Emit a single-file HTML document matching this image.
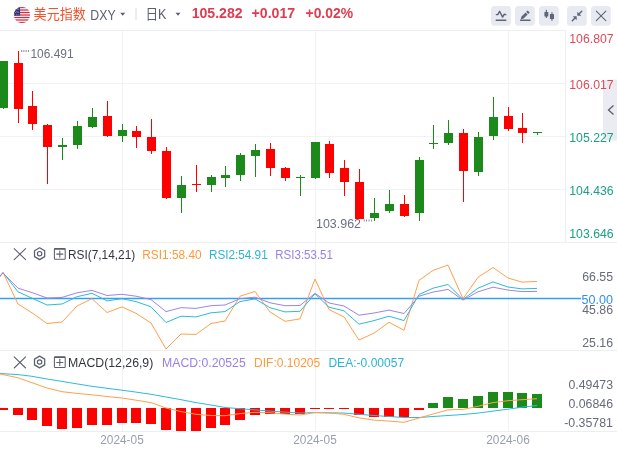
<!DOCTYPE html>
<html lang="zh-CN"><head><meta charset="utf-8"><title>美元指数 DXY</title>
<style>html,body{margin:0;padding:0;background:#fff;overflow:hidden}body{width:617px;height:453px}</style></head>
<body>
<svg width="617" height="453" viewBox="0 0 617 453" style="display:block;font-family:'Liberation Sans', 'Noto Sans CJK SC', sans-serif">
<rect width="617" height="453" fill="#ffffff"/>
<g stroke="#f1f2f6" stroke-width="1" shape-rendering="crispEdges">
<line x1="0" y1="83.5" x2="565" y2="83.5"/>
<line x1="0" y1="136.5" x2="565" y2="136.5"/>
<line x1="0" y1="189.5" x2="565" y2="189.5"/>
<line x1="122.5" y1="31" x2="122.5" y2="431"/>
<line x1="315.5" y1="31" x2="315.5" y2="431"/>
<line x1="508.5" y1="31" x2="508.5" y2="431"/>
</g>
<g stroke="#eceef2" stroke-width="1" shape-rendering="crispEdges">
<line x1="0" y1="30.5" x2="566" y2="30.5"/>
<line x1="565.5" y1="30" x2="565.5" y2="242"/>
<line x1="0" y1="242.5" x2="617" y2="242.5"/>
<line x1="0" y1="350.5" x2="617" y2="350.5"/>
<line x1="0" y1="431.5" x2="617" y2="431.5"/>
</g>
<g shape-rendering="crispEdges">
<rect x="-1" y="60.9" width="1.4" height="47.6" fill="#1b8a1b" transform="translate(3.8,0)"/>
<rect x="-1" y="60.9" width="9" height="46.9" fill="#1b8a1b"/>
<rect x="14" y="50.7" width="1.4" height="72.2" fill="#ff0000" transform="translate(3.8,0)"/>
<rect x="14" y="62.8" width="9" height="45.7" fill="#ff0000"/>
<rect x="28" y="90.8" width="1.4" height="39.6" fill="#ff0000" transform="translate(3.8,0)"/>
<rect x="28" y="105.9" width="9" height="17.7" fill="#ff0000"/>
<rect x="43" y="123.7" width="1.4" height="59.8" fill="#ff0000" transform="translate(3.8,0)"/>
<rect x="43" y="124.9" width="9" height="21.6" fill="#ff0000"/>
<rect x="58" y="138.0" width="1.4" height="21.7" fill="#1b8a1b" transform="translate(3.8,0)"/>
<rect x="58" y="145.0" width="9" height="1.6" fill="#1b8a1b"/>
<rect x="73" y="121.2" width="1.4" height="27.3" fill="#1b8a1b" transform="translate(3.8,0)"/>
<rect x="73" y="126.1" width="9" height="18.5" fill="#1b8a1b"/>
<rect x="88" y="107.9" width="1.4" height="19.9" fill="#1b8a1b" transform="translate(3.8,0)"/>
<rect x="88" y="116.9" width="9" height="9.7" fill="#1b8a1b"/>
<rect x="103" y="101.0" width="1.4" height="35.6" fill="#ff0000" transform="translate(3.8,0)"/>
<rect x="103" y="115.6" width="9" height="20.0" fill="#ff0000"/>
<rect x="118" y="124.2" width="1.4" height="17.8" fill="#1b8a1b" transform="translate(3.8,0)"/>
<rect x="118" y="130.0" width="9" height="6.0" fill="#1b8a1b"/>
<rect x="132" y="125.6" width="1.4" height="21.9" fill="#ff0000" transform="translate(3.8,0)"/>
<rect x="132" y="131.2" width="9" height="5.4" fill="#ff0000"/>
<rect x="147" y="119.0" width="1.4" height="34.5" fill="#ff0000" transform="translate(3.8,0)"/>
<rect x="147" y="137.0" width="9" height="13.6" fill="#ff0000"/>
<rect x="162" y="147.0" width="1.4" height="51.5" fill="#ff0000" transform="translate(3.8,0)"/>
<rect x="162" y="151.1" width="9" height="46.7" fill="#ff0000"/>
<rect x="177" y="176.2" width="1.4" height="36.8" fill="#1b8a1b" transform="translate(3.8,0)"/>
<rect x="177" y="185.2" width="9" height="12.4" fill="#1b8a1b"/>
<rect x="192" y="165.0" width="1.4" height="26.7" fill="#ff0000" transform="translate(3.8,0)"/>
<rect x="192" y="183.6" width="9" height="1.6" fill="#ff0000"/>
<rect x="207" y="175.0" width="1.4" height="16.7" fill="#1b8a1b" transform="translate(3.8,0)"/>
<rect x="207" y="177.1" width="9" height="7.6" fill="#1b8a1b"/>
<rect x="221" y="166.0" width="1.4" height="20.6" fill="#1b8a1b" transform="translate(3.8,0)"/>
<rect x="221" y="175.0" width="9" height="2.9" fill="#1b8a1b"/>
<rect x="236" y="152.8" width="1.4" height="28.0" fill="#1b8a1b" transform="translate(3.8,0)"/>
<rect x="236" y="155.0" width="9" height="19.7" fill="#1b8a1b"/>
<rect x="251" y="144.0" width="1.4" height="32.6" fill="#1b8a1b" transform="translate(3.8,0)"/>
<rect x="251" y="150.1" width="9" height="5.6" fill="#1b8a1b"/>
<rect x="266" y="143.0" width="1.4" height="32.7" fill="#ff0000" transform="translate(3.8,0)"/>
<rect x="266" y="148.9" width="9" height="18.7" fill="#ff0000"/>
<rect x="281" y="167.0" width="1.4" height="13.8" fill="#ff0000" transform="translate(3.8,0)"/>
<rect x="281" y="168.0" width="9" height="9.8" fill="#ff0000"/>
<rect x="296" y="175.0" width="1.4" height="20.9" fill="#1b8a1b" transform="translate(3.8,0)"/>
<rect x="296" y="176.6" width="9" height="1.6" fill="#1b8a1b"/>
<rect x="311" y="141.9" width="1.4" height="37.0" fill="#1b8a1b" transform="translate(3.8,0)"/>
<rect x="311" y="141.9" width="9" height="36.0" fill="#1b8a1b"/>
<rect x="325" y="140.9" width="1.4" height="37.0" fill="#ff0000" transform="translate(3.8,0)"/>
<rect x="325" y="143.8" width="9" height="29.0" fill="#ff0000"/>
<rect x="340" y="159.9" width="1.4" height="36.0" fill="#ff0000" transform="translate(3.8,0)"/>
<rect x="340" y="167.9" width="9" height="13.9" fill="#ff0000"/>
<rect x="355" y="168.9" width="1.4" height="49.6" fill="#ff0000" transform="translate(3.8,0)"/>
<rect x="355" y="182.0" width="9" height="36.5" fill="#ff0000"/>
<rect x="370" y="197.9" width="1.4" height="22.6" fill="#1b8a1b" transform="translate(3.8,0)"/>
<rect x="370" y="212.9" width="9" height="4.7" fill="#1b8a1b"/>
<rect x="385" y="189.8" width="1.4" height="23.1" fill="#1b8a1b" transform="translate(3.8,0)"/>
<rect x="385" y="203.9" width="9" height="6.9" fill="#1b8a1b"/>
<rect x="400" y="194.9" width="1.4" height="21.9" fill="#ff0000" transform="translate(3.8,0)"/>
<rect x="400" y="203.9" width="9" height="12.0" fill="#ff0000"/>
<rect x="415" y="157.0" width="1.4" height="63.7" fill="#1b8a1b" transform="translate(3.8,0)"/>
<rect x="415" y="159.9" width="9" height="52.8" fill="#1b8a1b"/>
<rect x="429" y="125.0" width="1.4" height="23.9" fill="#1b8a1b" transform="translate(3.8,0)"/>
<rect x="429" y="142.7" width="9" height="1.6" fill="#1b8a1b"/>
<rect x="444" y="119.9" width="1.4" height="25.1" fill="#1b8a1b" transform="translate(3.8,0)"/>
<rect x="444" y="133.0" width="9" height="9.8" fill="#1b8a1b"/>
<rect x="459" y="128.9" width="1.4" height="73.1" fill="#ff0000" transform="translate(3.8,0)"/>
<rect x="459" y="133.0" width="9" height="37.8" fill="#ff0000"/>
<rect x="474" y="131.8" width="1.4" height="44.1" fill="#1b8a1b" transform="translate(3.8,0)"/>
<rect x="474" y="136.9" width="9" height="34.8" fill="#1b8a1b"/>
<rect x="489" y="97.0" width="1.4" height="42.9" fill="#1b8a1b" transform="translate(3.8,0)"/>
<rect x="489" y="117.0" width="9" height="18.7" fill="#1b8a1b"/>
<rect x="504" y="107.0" width="1.4" height="23.9" fill="#ff0000" transform="translate(3.8,0)"/>
<rect x="504" y="116.0" width="9" height="12.9" fill="#ff0000"/>
<rect x="518" y="112.8" width="1.4" height="30.2" fill="#ff0000" transform="translate(3.8,0)"/>
<rect x="518" y="127.9" width="9" height="4.9" fill="#ff0000"/>
<rect x="533" y="131.5" width="1.4" height="3.5" fill="#1b8a1b" transform="translate(3.8,0)"/>
<rect x="533" y="131.5" width="9" height="1.6" fill="#1b8a1b"/>
</g>
<line x1="21.3" y1="51" x2="29.2" y2="51" stroke="#6b7080" stroke-width="2" stroke-dasharray="0.8,1.4"/>
<text x="30.4" y="58" font-size="12" fill="#6b7080" textLength="43.2" lengthAdjust="spacingAndGlyphs">106.491</text>
<line x1="363.8" y1="220.4" x2="372.2" y2="220.4" stroke="#6b7080" stroke-width="2" stroke-dasharray="0.8,1.6"/>
<text x="316" y="228" font-size="12" fill="#6b7080" textLength="45" lengthAdjust="spacingAndGlyphs">103.962</text>
<line x1="0" y1="298.6" x2="581" y2="298.6" stroke="#379ef5" stroke-width="1.5"/>
<polyline fill="none" stroke="#ffa04d" stroke-width="1.0" stroke-linejoin="round" points="0.0,277.0 3.0,272.4 18.0,304.0 32.0,312.8 47.0,323.5 62.0,322.0 77.0,306.0 92.0,298.7 107.0,312.5 122.0,306.9 136.0,313.3 151.0,323.0 166.0,349.0 181.0,334.0 196.0,334.4 211.0,323.5 225.0,321.0 240.0,296.2 255.0,291.4 270.0,312.0 285.0,321.3 300.0,318.9 315.0,279.0 329.0,309.6 344.0,316.9 359.0,340.0 374.0,333.2 389.0,322.3 404.0,330.3 419.0,280.4 433.0,270.4 448.0,265.1 463.0,298.7 478.0,277.3 493.0,267.5 508.0,278.0 522.0,282.1 537.0,281.4"/>
<polyline fill="none" stroke="#2fbad8" stroke-width="1.0" stroke-linejoin="round" points="0.0,276.0 3.0,272.6 18.0,291.8 32.0,298.2 47.0,305.0 62.0,304.0 77.0,296.7 92.0,293.3 107.0,300.9 122.0,298.7 136.0,301.6 151.0,306.8 166.0,322.5 181.0,316.2 196.0,316.9 211.0,312.8 225.0,311.6 240.0,301.6 255.0,298.9 270.0,307.7 285.0,311.9 300.0,311.3 315.0,293.8 329.0,307.2 344.0,310.8 359.0,324.2 374.0,320.6 389.0,316.2 404.0,320.6 419.0,294.5 433.0,288.2 448.0,284.5 463.0,299.4 478.0,288.2 493.0,281.9 508.0,287.0 522.0,288.9 537.0,288.4"/>
<polyline fill="none" stroke="#9d84ea" stroke-width="1.0" stroke-linejoin="round" points="0.0,276.0 3.0,273.0 18.0,288.2 32.0,292.6 47.0,298.0 62.0,297.4 77.0,292.8 92.0,290.4 107.0,295.5 122.0,294.3 136.0,296.2 151.0,299.6 166.0,311.6 181.0,307.7 196.0,308.4 211.0,305.7 225.0,305.0 240.0,298.7 255.0,297.2 270.0,302.8 285.0,305.7 300.0,305.5 315.0,293.3 329.0,303.0 344.0,306.0 359.0,315.2 374.0,313.0 389.0,310.1 404.0,313.5 419.0,296.2 433.0,292.1 448.0,289.4 463.0,300.1 478.0,291.8 493.0,287.2 508.0,290.1 522.0,291.6 537.0,291.4"/>
<g shape-rendering="crispEdges">
<rect x="-2" y="408.0" width="10" height="2.4" fill="#ff0000"/>
<rect x="13" y="408.0" width="10" height="6.8" fill="#ff0000"/>
<rect x="27" y="408.0" width="10" height="11.6" fill="#ff0000"/>
<rect x="42" y="408.0" width="10" height="17.7" fill="#ff0000"/>
<rect x="57" y="408.0" width="10" height="20.9" fill="#ff0000"/>
<rect x="72" y="408.0" width="10" height="19.7" fill="#ff0000"/>
<rect x="87" y="408.0" width="10" height="17.0" fill="#ff0000"/>
<rect x="102" y="408.0" width="10" height="16.5" fill="#ff0000"/>
<rect x="117" y="408.0" width="10" height="15.3" fill="#ff0000"/>
<rect x="131" y="408.0" width="10" height="15.3" fill="#ff0000"/>
<rect x="146" y="408.0" width="10" height="15.8" fill="#ff0000"/>
<rect x="161" y="408.0" width="10" height="21.9" fill="#ff0000"/>
<rect x="176" y="408.0" width="10" height="22.6" fill="#ff0000"/>
<rect x="191" y="408.0" width="10" height="22.6" fill="#ff0000"/>
<rect x="206" y="408.0" width="10" height="19.7" fill="#ff0000"/>
<rect x="220" y="408.0" width="10" height="16.8" fill="#ff0000"/>
<rect x="235" y="408.0" width="10" height="11.9" fill="#ff0000"/>
<rect x="250" y="408.0" width="10" height="6.5" fill="#ff0000"/>
<rect x="265" y="408.0" width="10" height="6.0" fill="#ff0000"/>
<rect x="280" y="408.0" width="10" height="6.0" fill="#ff0000"/>
<rect x="295" y="408.0" width="10" height="5.6" fill="#ff0000"/>
<rect x="310" y="408.0" width="10" height="1.4" fill="#ff0000"/>
<rect x="324" y="408.0" width="10" height="1.4" fill="#ff0000"/>
<rect x="339" y="408.0" width="10" height="1.4" fill="#ff0000"/>
<rect x="354" y="408.0" width="10" height="6.5" fill="#ff0000"/>
<rect x="369" y="408.0" width="10" height="8.7" fill="#ff0000"/>
<rect x="384" y="408.0" width="10" height="8.7" fill="#ff0000"/>
<rect x="399" y="408.0" width="10" height="9.2" fill="#ff0000"/>
<rect x="414" y="408.0" width="10" height="1.5" fill="#ff0000"/>
<rect x="428" y="403.1" width="10" height="4.9" fill="#1b8a1b"/>
<rect x="443" y="397.0" width="10" height="11.0" fill="#1b8a1b"/>
<rect x="458" y="399.0" width="10" height="9.0" fill="#1b8a1b"/>
<rect x="473" y="395.8" width="10" height="12.2" fill="#1b8a1b"/>
<rect x="488" y="391.9" width="10" height="16.1" fill="#1b8a1b"/>
<rect x="503" y="391.9" width="10" height="16.1" fill="#1b8a1b"/>
<rect x="517" y="392.9" width="10" height="15.1" fill="#1b8a1b"/>
<rect x="532" y="393.9" width="10" height="14.1" fill="#1b8a1b"/>
</g>
<polyline fill="none" stroke="#2fbad8" stroke-width="1.0" stroke-linejoin="round" points="0.0,373.5 3.0,373.7 18.0,374.6 32.0,376.3 47.0,379.0 62.0,381.4 77.0,383.9 92.0,386.3 107.0,388.3 122.0,390.2 136.0,392.1 151.0,394.3 166.0,397.0 181.0,399.7 196.0,402.6 211.0,405.0 225.0,407.5 240.0,408.7 255.0,409.9 270.0,411.1 285.0,412.1 300.0,413.0 315.0,412.6 329.0,412.8 344.0,413.0 359.0,414.3 374.0,415.5 389.0,416.5 404.0,417.5 419.0,417.5 433.0,416.5 448.0,415.5 463.0,414.5 478.0,413.1 493.0,411.1 508.0,409.2 522.0,407.2 537.0,405.5"/>
<polyline fill="none" stroke="#ffa04d" stroke-width="1.0" stroke-linejoin="round" points="0.0,374.0 3.0,374.6 18.0,377.8 32.0,382.7 47.0,388.0 62.0,391.7 77.0,393.4 92.0,394.8 107.0,396.5 122.0,398.0 136.0,400.2 151.0,402.6 166.0,408.0 181.0,411.6 196.0,414.3 211.0,415.5 225.0,415.7 240.0,413.6 255.0,412.3 270.0,412.8 285.0,414.1 300.0,415.0 315.0,412.6 329.0,413.0 344.0,414.3 359.0,417.9 374.0,420.1 389.0,421.1 404.0,422.3 419.0,418.0 433.0,414.0 448.0,409.9 463.0,409.4 478.0,406.3 493.0,402.6 508.0,400.7 522.0,399.7 537.0,398.7"/>
<path d="M617 79.5H608a5 5 0 0 0-5 5v51a5 5 0 0 0 5 5h9z" fill="#ebebf2"/>
<polyline points="613.5,105.5 608.5,110 613.5,114.5" fill="none" stroke="#5a5f6e" stroke-width="1.3"/>
<text x="613.6" y="43" font-size="12.4" fill="#dc4a56" text-anchor="end" textLength="44.3" lengthAdjust="spacingAndGlyphs">106.807</text>
<text x="613.6" y="88.8" font-size="12.4" fill="#dc4a56" text-anchor="end" textLength="44.3" lengthAdjust="spacingAndGlyphs">106.017</text>
<text x="613.6" y="141.5" font-size="12.4" fill="#1ba086" text-anchor="end" textLength="44.3" lengthAdjust="spacingAndGlyphs">105.227</text>
<text x="613.6" y="195.1" font-size="12.4" fill="#1ba086" text-anchor="end" textLength="44.3" lengthAdjust="spacingAndGlyphs">104.436</text>
<text x="613.6" y="237.5" font-size="12.4" fill="#1ba086" text-anchor="end" textLength="44.3" lengthAdjust="spacingAndGlyphs">103.646</text>
<text x="613" y="281" font-size="12" fill="#676c7b" text-anchor="end" textLength="30.8" lengthAdjust="spacingAndGlyphs">66.55</text>
<text x="613" y="304" font-size="12.5" fill="#2f8ff0" text-anchor="end" textLength="31.5" lengthAdjust="spacingAndGlyphs">50.00</text>
<text x="613" y="314.3" font-size="12" fill="#676c7b" text-anchor="end" textLength="30.8" lengthAdjust="spacingAndGlyphs">45.86</text>
<text x="613" y="347" font-size="12" fill="#676c7b" text-anchor="end" textLength="30.8" lengthAdjust="spacingAndGlyphs">25.16</text>
<text x="613" y="389.3" font-size="12" fill="#676c7b" text-anchor="end" textLength="44.5" lengthAdjust="spacingAndGlyphs">0.49473</text>
<text x="613" y="408" font-size="12" fill="#676c7b" text-anchor="end" textLength="44.5" lengthAdjust="spacingAndGlyphs">0.06846</text>
<text x="613" y="426.7" font-size="12" fill="#676c7b" text-anchor="end" textLength="48.8" lengthAdjust="spacingAndGlyphs">-0.35781</text>
<text x="122" y="444" font-size="12" fill="#9a9eb0" text-anchor="middle" textLength="43.5" lengthAdjust="spacingAndGlyphs">2024-05</text>
<text x="315" y="444" font-size="12" fill="#9a9eb0" text-anchor="middle" textLength="43.5" lengthAdjust="spacingAndGlyphs">2024-05</text>
<text x="508" y="444" font-size="12" fill="#9a9eb0" text-anchor="middle" textLength="43.5" lengthAdjust="spacingAndGlyphs">2024-06</text>
<g><clipPath id="fc"><circle cx="22" cy="15" r="8.1"/></clipPath><g clip-path="url(#fc)">
<rect x="13" y="6" width="18" height="18" fill="#ffffff"/>
<rect x="13" y="6.90" width="18" height="1.25" fill="#d02a40"/>
<rect x="13" y="9.39" width="18" height="1.25" fill="#d02a40"/>
<rect x="13" y="11.88" width="18" height="1.25" fill="#d02a40"/>
<rect x="13" y="14.38" width="18" height="1.25" fill="#d02a40"/>
<rect x="13" y="16.87" width="18" height="1.25" fill="#d02a40"/>
<rect x="13" y="19.36" width="18" height="1.25" fill="#d02a40"/>
<rect x="13" y="21.85" width="18" height="1.25" fill="#d02a40"/>
<rect x="13" y="6" width="7.1" height="9.62" fill="#2d3278"/>
<circle cx="14.60" cy="8.20" r="0.42" fill="#e9ebf6"/>
<circle cx="16.30" cy="8.20" r="0.42" fill="#e9ebf6"/>
<circle cx="18.00" cy="8.20" r="0.42" fill="#e9ebf6"/>
<circle cx="15.45" cy="9.70" r="0.42" fill="#e9ebf6"/>
<circle cx="17.15" cy="9.70" r="0.42" fill="#e9ebf6"/>
<circle cx="18.85" cy="9.70" r="0.42" fill="#e9ebf6"/>
<circle cx="14.60" cy="11.20" r="0.42" fill="#e9ebf6"/>
<circle cx="16.30" cy="11.20" r="0.42" fill="#e9ebf6"/>
<circle cx="18.00" cy="11.20" r="0.42" fill="#e9ebf6"/>
<circle cx="15.45" cy="12.70" r="0.42" fill="#e9ebf6"/>
<circle cx="17.15" cy="12.70" r="0.42" fill="#e9ebf6"/>
<circle cx="18.85" cy="12.70" r="0.42" fill="#e9ebf6"/>
<circle cx="14.60" cy="14.20" r="0.42" fill="#e9ebf6"/>
<circle cx="16.30" cy="14.20" r="0.42" fill="#e9ebf6"/>
<circle cx="18.00" cy="14.20" r="0.42" fill="#e9ebf6"/>
</g></g>
<text x="33.6" y="18.9" font-size="13.8" fill="#f4512c" textLength="52.3" lengthAdjust="spacingAndGlyphs">美元指数</text>
<text x="90.3" y="19.6" font-size="13.8" fill="#5a6070" textLength="25.3" lengthAdjust="spacingAndGlyphs">DXY</text>
<path d="M120.2 12.8h5l-2.5 3z" fill="#5a6070"/>
<line x1="136" y1="8" x2="136" y2="20" stroke="#d8dae2" stroke-width="1"/>
<text x="145.5" y="19.2" font-size="13.8" fill="#5a6070" textLength="21" lengthAdjust="spacingAndGlyphs">日K</text>
<path d="M175.5 12.8h5l-2.5 3z" fill="#5a6070"/>
<text x="191.7" y="18.4" font-size="13.8" font-weight="bold" fill="#e13b4e" textLength="50.9" lengthAdjust="spacingAndGlyphs">105.282</text>
<text x="251.6" y="18.4" font-size="13.8" font-weight="bold" fill="#e13b4e" textLength="43.6" lengthAdjust="spacingAndGlyphs">+0.017</text>
<text x="305.5" y="18.4" font-size="13.8" font-weight="bold" fill="#e13b4e" textLength="47.6" lengthAdjust="spacingAndGlyphs">+0.02%</text>
<rect x="491" y="6" width="19.8" height="19.8" rx="3.6" fill="#e8eaf1"/>
<rect x="515" y="6" width="19.8" height="19.8" rx="3.6" fill="#e8eaf1"/>
<rect x="539" y="6" width="19.8" height="19.8" rx="3.6" fill="#e8eaf1"/>
<rect x="567" y="6" width="19.8" height="19.8" rx="3.6" fill="#e8eaf1"/>
<rect x="591" y="6" width="19.8" height="19.8" rx="3.6" fill="#e8eaf1"/>
<g fill="none" stroke="#5f6577" stroke-width="1.4" stroke-linecap="round" stroke-linejoin="round">
<polyline points="496.3,14.6 497.8,14.6 499.6,11.3 502.6,17.1 504.3,14.2 505.8,14.6"/>
<line x1="496.2" y1="20.3" x2="505.8" y2="20.3"/>
<line x1="520.6" y1="20.2" x2="530" y2="20.2"/>
</g>
<path d="M520.70,19.40 L523.56,18.59 L527.67,14.49 L525.61,12.43 L521.51,16.54 Z M528.23,13.92 L529.72,12.43 L527.67,10.38 L526.18,11.87 Z" fill="#5f6577"/>
<g fill="#5f6577"><rect x="544.4" y="12" width="3.9" height="4.6" rx="0.5"/><rect x="545.8" y="9.8" width="1.1" height="8.2"/><rect x="549.9" y="14" width="4.1" height="5" rx="0.5"/><rect x="551.4" y="12.3" width="1.1" height="8.5"/></g>
<g fill="#5f6577" stroke="none"><path d="M577.3 11.7L581.3 15.7H577.3Z"/><path d="M576.7 20.3L572.7 16.3H576.7Z"/></g>
<g fill="none" stroke="#5f6577" stroke-width="1.5" stroke-linecap="round"><line x1="579" y1="14" x2="581.7" y2="11.3"/><line x1="575" y1="18" x2="572.3" y2="20.7"/></g>
<g stroke="#5f6577" stroke-width="1.1" stroke-linecap="round"><line x1="596.3" y1="11.2" x2="605.8" y2="20.7"/><line x1="605.8" y1="11.2" x2="596.3" y2="20.7"/></g>
<g stroke="#5a5f6e" stroke-width="1.05" stroke-linecap="round" fill="none">
<line x1="14.2" y1="248.6" x2="25.6" y2="259.7"/><line x1="25.6" y1="248.6" x2="14.2" y2="259.7"/>
<polygon points="39.6,247.8 44.7,250.8 44.7,256.6 39.6,259.6 34.5,256.6 34.5,250.8" stroke-linejoin="round" stroke-width="1.25"/>
<circle cx="39.6" cy="253.7" r="2.2" stroke-width="1.2"/>
<rect x="54.4" y="248.6" width="10.8" height="10.6" rx="0.8"/>
<line x1="54.4" y1="248.9" x2="65.2" y2="248.9" stroke-width="1.6" stroke-linecap="butt"/>
<line x1="56.7" y1="254.1" x2="62.9" y2="254.1"/><line x1="59.8" y1="251.0" x2="59.8" y2="257.2"/>
</g>
<text x="68" y="258.8" font-size="12.5" fill="#333640" textLength="67.2" lengthAdjust="spacingAndGlyphs">RSI(7,14,21)</text>
<text x="142.3" y="258.8" font-size="12.5" fill="#ff9a3c" textLength="59.3" lengthAdjust="spacingAndGlyphs">RSI1:58.40</text>
<text x="208.9" y="258.8" font-size="12.5" fill="#2bb5d5" textLength="58.8" lengthAdjust="spacingAndGlyphs">RSI2:54.91</text>
<text x="275.3" y="258.8" font-size="12.5" fill="#9a80e8" textLength="57.6" lengthAdjust="spacingAndGlyphs">RSI3:53.51</text>
<g stroke="#5a5f6e" stroke-width="1.05" stroke-linecap="round" fill="none">
<line x1="14.2" y1="356.9" x2="25.6" y2="368.0"/><line x1="25.6" y1="356.9" x2="14.2" y2="368.0"/>
<polygon points="39.6,356.1 44.7,359.1 44.7,364.9 39.6,367.9 34.5,364.9 34.5,359.1" stroke-linejoin="round" stroke-width="1.25"/>
<circle cx="39.6" cy="362.0" r="2.2" stroke-width="1.2"/>
<rect x="54.4" y="356.9" width="10.8" height="10.6" rx="0.8"/>
<line x1="54.4" y1="357.2" x2="65.2" y2="357.2" stroke-width="1.6" stroke-linecap="butt"/>
<line x1="56.7" y1="362.4" x2="62.9" y2="362.4"/><line x1="59.8" y1="359.3" x2="59.8" y2="365.5"/>
</g>
<text x="68" y="367.1" font-size="12.5" fill="#333640" textLength="85.3" lengthAdjust="spacingAndGlyphs">MACD(12,26,9)</text>
<text x="162.1" y="367.1" font-size="12.5" fill="#9a80e8" textLength="83.6" lengthAdjust="spacingAndGlyphs">MACD:0.20525</text>
<text x="254" y="367.1" font-size="12.5" fill="#ff9a3c" textLength="66.2" lengthAdjust="spacingAndGlyphs">DIF:0.10205</text>
<text x="328.4" y="367.1" font-size="12.5" fill="#2bb5d5" textLength="75.8" lengthAdjust="spacingAndGlyphs">DEA:-0.00057</text>
</svg>
</body></html>
